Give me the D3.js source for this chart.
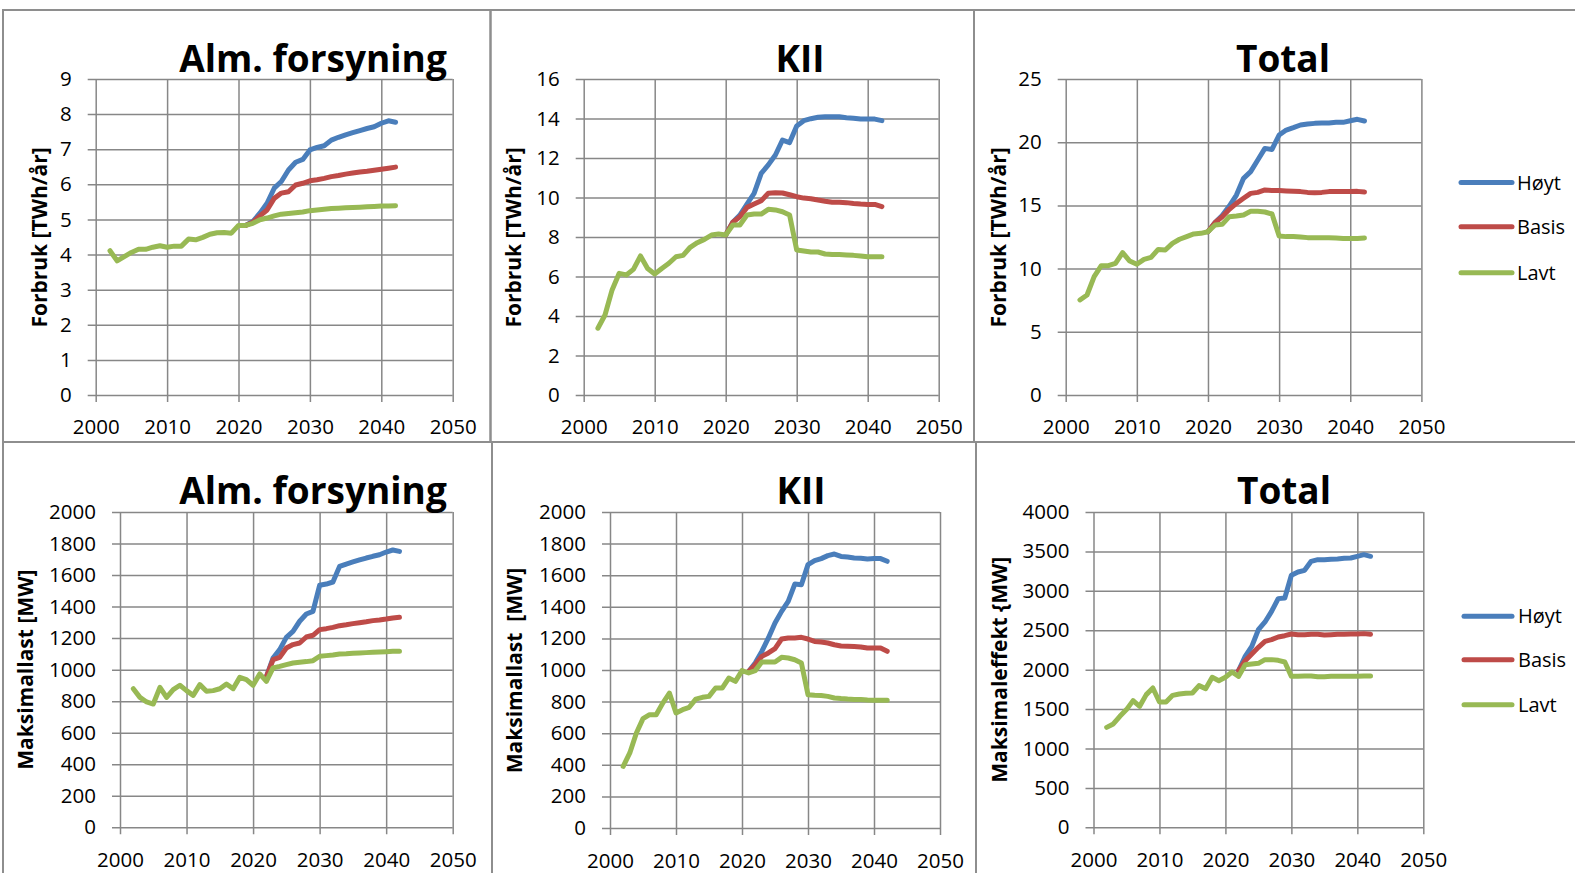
<!DOCTYPE html>
<html>
<head>
<meta charset="utf-8">
<script src="https://cdn.jsdelivr.net/npm/d3@7"></script>
<style>
  html, body { margin: 0; padding: 0; background: #fff; }
  svg { display: block; }
</style>
</head>
<body>
<svg id="chart" width="1575" height="873"></svg>
<script>
// ---------------- DATA ----------------
const years = [2002,2003,2004,2005,2006,2007,2008,2009,2010,2011,2012,2013,2014,2015,2016,2017,2018,2019,2020,2021,2022,2023,2024,2025,2026,2027,2028,2029,2030,2031,2032,2033,2034,2035,2036,2037,2038,2039,2040,2041,2042];
const seriesNames = ["Høyt", "Basis", "Lavt"];
const xTicks = [2000, 2010, 2020, 2030, 2040, 2050];

// Alm. forsyning – Forbruk [TWh/år]
const almEnergyHoyt = [null,null,null,null,null,null,null,null,null,null,null,null,null,null,null,null,null,null,null,4.83,4.94,5.18,5.46,5.89,6.08,6.41,6.63,6.71,6.98,7.05,7.10,7.26,7.34,7.41,7.47,7.53,7.59,7.64,7.74,7.81,7.77];
const almEnergyBasis = [null,null,null,null,null,null,null,null,null,null,null,null,null,null,null,null,null,null,null,4.83,4.92,5.10,5.27,5.60,5.75,5.79,5.98,6.03,6.10,6.13,6.17,6.22,6.25,6.29,6.32,6.35,6.37,6.40,6.43,6.46,6.49];
const almEnergyLavt = [4.11,3.82,3.94,4.06,4.15,4.15,4.21,4.25,4.21,4.24,4.24,4.44,4.42,4.49,4.58,4.62,4.63,4.61,4.83,4.83,4.89,4.99,5.04,5.10,5.15,5.17,5.19,5.21,5.25,5.27,5.29,5.31,5.32,5.33,5.34,5.35,5.36,5.37,5.38,5.38,5.39];
const almEnergyTicks = [0,1,2,3,4,5,6,7,8,9];

// KII – Forbruk [TWh/år]
const kiiEnergyHoyt = [null,null,null,null,null,null,null,null,null,null,null,null,null,null,null,null,null,null,8.10,8.75,9.11,9.67,10.21,11.22,11.65,12.15,12.91,12.78,13.62,13.89,13.99,14.06,14.09,14.09,14.09,14.04,14.01,13.97,13.97,13.97,13.89];
const kiiEnergyBasis = [null,null,null,null,null,null,null,null,null,null,null,null,null,null,null,null,null,null,8.10,8.75,9.03,9.50,9.67,9.84,10.21,10.24,10.23,10.14,10.04,9.97,9.94,9.87,9.81,9.76,9.76,9.74,9.70,9.67,9.65,9.65,9.54];
const kiiEnergyLavt = [3.38,4.05,5.32,6.16,6.08,6.36,7.04,6.41,6.13,6.41,6.67,7.00,7.07,7.48,7.71,7.88,8.10,8.15,8.10,8.61,8.61,9.11,9.16,9.16,9.40,9.37,9.28,9.11,7.34,7.29,7.24,7.24,7.14,7.12,7.11,7.09,7.07,7.04,7.00,7.00,7.00];
const kiiEnergyTicks = [0,2,4,6,8,10,12,14,16];

// Total – Forbruk [TWh/år]
const totalEnergyHoyt = [null,null,null,null,null,null,null,null,null,null,null,null,null,null,null,null,null,null,12.92,13.65,14.20,14.95,15.82,17.14,17.67,18.59,19.51,19.43,20.57,20.96,21.15,21.36,21.44,21.49,21.52,21.52,21.57,21.57,21.70,21.81,21.68];
const totalEnergyBasis = [null,null,null,null,null,null,null,null,null,null,null,null,null,null,null,null,null,null,12.92,13.65,14.10,14.70,15.16,15.56,15.95,16.03,16.22,16.17,16.17,16.14,16.11,16.09,16.03,16.01,16.03,16.09,16.09,16.09,16.09,16.11,16.06];
const totalEnergyLavt = [7.52,7.91,9.36,10.23,10.23,10.42,11.26,10.60,10.34,10.73,10.89,11.52,11.47,12.00,12.32,12.53,12.74,12.79,12.92,13.45,13.50,14.11,14.16,14.24,14.53,14.53,14.48,14.32,12.58,12.53,12.53,12.50,12.45,12.45,12.45,12.45,12.42,12.39,12.39,12.39,12.42];
const totalEnergyTicks = [0,5,10,15,20,25];

// Alm. forsyning – Maksimallast [MW]
const almPeakHoyt = [null,null,null,null,null,null,null,null,null,null,null,null,null,null,null,null,null,null,null,null,955,1074,1127,1205,1243,1307,1353,1370,1535,1543,1556,1655,1670,1683,1696,1708,1719,1729,1746,1759,1750];
const almPeakBasis = [null,null,null,null,null,null,null,null,null,null,null,null,null,null,null,null,null,null,null,null,955,1063,1078,1137,1159,1169,1207,1218,1254,1260,1268,1279,1285,1292,1298,1304,1311,1315,1321,1328,1332];
const almPeakLavt = [879,824,795,782,888,824,873,901,867,837,905,863,867,879,909,879,951,937,901,973,926,1011,1021,1032,1042,1047,1051,1057,1085,1089,1093,1099,1101,1104,1106,1108,1110,1112,1114,1116,1116];
const almPeakTicks = [0,200,400,600,800,1000,1200,1400,1600,1800,2000];

// KII – Maksimallast [MW]
const kiiPeakHoyt = [null,null,null,null,null,null,null,null,null,null,null,null,null,null,null,null,null,null,null,990,1044,1118,1203,1297,1371,1435,1544,1540,1667,1692,1705,1724,1734,1719,1715,1709,1707,1703,1705,1705,1688];
const kiiPeakBasis = [null,null,null,null,null,null,null,null,null,null,null,null,null,null,null,null,null,null,null,990,1034,1086,1108,1135,1196,1203,1203,1207,1196,1181,1177,1171,1160,1152,1150,1148,1146,1139,1139,1139,1118];
const kiiPeakLavt = [390,475,601,692,717,717,791,854,728,749,764,816,827,833,886,886,949,928,996,981,996,1051,1051,1051,1080,1076,1065,1044,844,840,838,833,823,819,816,814,814,810,808,808,808];
const kiiPeakTicks = [0,200,400,600,800,1000,1200,1400,1600,1800,2000];

// Total – Maksimaleffekt [MW]
const totalPeakHoyt = [null,null,null,null,null,null,null,null,null,null,null,null,null,null,null,null,null,null,null,null,1990,2169,2296,2507,2605,2740,2901,2909,3197,3239,3260,3374,3395,3395,3400,3404,3412,3416,3438,3459,3438];
const totalPeakBasis = [null,null,null,null,null,null,null,null,null,null,null,null,null,null,null,null,null,null,null,null,1990,2114,2199,2283,2359,2381,2414,2431,2452,2444,2444,2448,2448,2440,2444,2448,2448,2452,2452,2457,2448];
const totalPeakLavt = [1268,1311,1408,1493,1607,1535,1683,1767,1590,1590,1674,1691,1700,1704,1797,1759,1903,1860,1903,1970,1915,2063,2072,2080,2127,2127,2118,2097,1915,1915,1920,1920,1911,1911,1915,1915,1915,1915,1915,1920,1920];
const totalPeakTicks = [0,500,1000,1500,2000,2500,3000,3500,4000];

// ---------------- STYLE / LAYOUT ----------------
const colors = ["#4a7ebb", "#be4b48", "#98b954"];
const gridColor = "#878787";
const frameColor = "#8e8e8e";
const FONT = "'Open Sans', 'Noto Sans', sans-serif";
const TICK_FS = 20.5;

const panels = [
  { title: "Alm. forsyning", tx: 313, ty: 71.5, yTitle: "Forbruk [TWh/år]", ytx: 46.5, yty: 237.5,
    x0: 95.7, x1: 452.7, top: 79, bottom: 395, xPad: 17,
    ticks: almEnergyTicks, series: [almEnergyHoyt, almEnergyBasis, almEnergyLavt] },
  { title: "KII", tx: 800, ty: 71.5, yTitle: "Forbruk [TWh/år]", ytx: 520.7, yty: 237.5,
    x0: 583.7, x1: 938.7, top: 79, bottom: 395, xPad: 17,
    ticks: kiiEnergyTicks, series: [kiiEnergyHoyt, kiiEnergyBasis, kiiEnergyLavt] },
  { title: "Total", tx: 1283, ty: 71.5, yTitle: "Forbruk [TWh/år]", ytx: 1005.5, yty: 237.5,
    x0: 1065.7, x1: 1421.4, top: 79, bottom: 395, xPad: 17,
    ticks: totalEnergyTicks, series: [totalEnergyHoyt, totalEnergyBasis, totalEnergyLavt],
    legend: { x0: 1461, x1: 1512, tx: 1517, ys: [182.5, 226.7, 272.7] } },
  { title: "Alm. forsyning", tx: 313, ty: 503.5, yTitle: "Maksimallast [MW]", ytx: 33, yty: 669.7,
    x0: 120, x1: 452.7, top: 512, bottom: 827.3, xPad: 18,
    ticks: almPeakTicks, series: [almPeakHoyt, almPeakBasis, almPeakLavt] },
  { title: "KII", tx: 801, ty: 503.5, yTitle: "Maksimallast  [MW]", ytx: 522.3, yty: 670.5,
    x0: 610, x1: 940, top: 512, bottom: 828, xPad: 18,
    ticks: kiiPeakTicks, series: [kiiPeakHoyt, kiiPeakBasis, kiiPeakLavt] },
  { title: "Total", tx: 1284, ty: 504, yTitle: "Maksimaleffekt {MW]", ytx: 1006.7, yty: 669.7,
    x0: 1093.5, x1: 1423.3, top: 512, bottom: 827.3, xPad: 18,
    ticks: totalPeakTicks, series: [totalPeakHoyt, totalPeakBasis, totalPeakLavt],
    legend: { x0: 1464, x1: 1512, tx: 1518, ys: [616.3, 659.7, 704.7] } }
];

const svg = d3.select("#chart");

// panel frames
const frames = [
  [3, 10, 490.5, 442], [490.5, 10, 974, 442], [974, 10, 1580, 442],
  [3, 442, 492, 880], [492, 442, 976, 880], [976, 442, 1580, 880]
];
svg.append("g").selectAll("rect").data(frames).join("rect")
  .attr("x", d => d[0]).attr("y", d => d[1])
  .attr("width", d => d[2] - d[0]).attr("height", d => d[3] - d[1])
  .attr("fill", "none").attr("stroke", frameColor).attr("stroke-width", 2);

panels.forEach(p => {
  const g = svg.append("g");
  const x = d3.scaleLinear().domain([2000, 2050]).range([p.x0, p.x1]);
  const yMax = p.ticks[p.ticks.length - 1];
  const y = d3.scaleLinear().domain([0, yMax]).range([p.bottom, p.top]);

  // Y axis with gridlines (placed at right edge so ticks span the plot + 8px outside)
  const yAxis = d3.axisLeft(y).tickValues(p.ticks).tickFormat(d3.format("d"))
    .tickSizeInner(p.x1 - p.x0 + 8).tickSizeOuter(0).tickPadding(16);
  const ya = g.append("g").attr("transform", `translate(${p.x1},0)`).call(yAxis);
  ya.select(".domain").remove();
  ya.selectAll(".tick line").attr("stroke", gridColor).attr("stroke-width", 1.5);
  ya.selectAll(".tick text").attr("font-family", FONT).attr("font-size", TICK_FS).attr("fill", "#000");

  // X axis with gridlines (placed at top so ticks span the plot + 7px below)
  const xAxis = d3.axisBottom(x).tickValues(xTicks).tickFormat(d3.format("d"))
    .tickSizeInner(p.bottom - p.top + 7).tickSizeOuter(0).tickPadding(p.xPad);
  const xa = g.append("g").attr("transform", `translate(0,${p.top})`).call(xAxis);
  xa.select(".domain").remove();
  xa.selectAll(".tick line").attr("stroke", gridColor).attr("stroke-width", 1.5);
  xa.selectAll(".tick text").attr("font-family", FONT).attr("font-size", TICK_FS).attr("fill", "#000");

  // series lines (Lavt drawn last, on top)
  const line = d3.line()
    .defined(d => d[1] !== null)
    .x(d => x(d[0])).y(d => y(d[1]));
  p.series.forEach((vals, i) => {
    g.append("path")
      .datum(years.map((yr, k) => [yr, vals[k]]))
      .attr("d", line)
      .attr("fill", "none")
      .attr("stroke", colors[i])
      .attr("stroke-width", 5)
      .attr("stroke-linejoin", "round")
      .attr("stroke-linecap", "round");
  });

  // title
  g.append("text").attr("x", p.tx).attr("y", p.ty)
    .attr("text-anchor", "middle").attr("font-family", FONT)
    .attr("font-weight", "bold").attr("font-size", 37).attr("fill", "#000")
    .text(p.title);

  // y-axis title
  g.append("text")
    .attr("transform", `translate(${p.ytx},${p.yty}) rotate(-90)`)
    .attr("text-anchor", "middle").attr("font-family", FONT)
    .attr("font-weight", "bold").attr("font-size", 21).attr("fill", "#000")
    .attr("xml:space", "preserve").style("white-space", "pre")
    .text(p.yTitle);

  // legend
  if (p.legend) {
    const L = p.legend;
    seriesNames.forEach((name, i) => {
      g.append("line").attr("x1", L.x0).attr("x2", L.x1)
        .attr("y1", L.ys[i]).attr("y2", L.ys[i])
        .attr("stroke", colors[i]).attr("stroke-width", 5).attr("stroke-linecap", "round");
      g.append("text").attr("x", L.tx).attr("y", L.ys[i])
        .attr("dy", "0.35em").attr("font-family", FONT).attr("font-size", 20).attr("fill", "#000")
        .text(name);
    });
  }
});
</script>
</body>
</html>
